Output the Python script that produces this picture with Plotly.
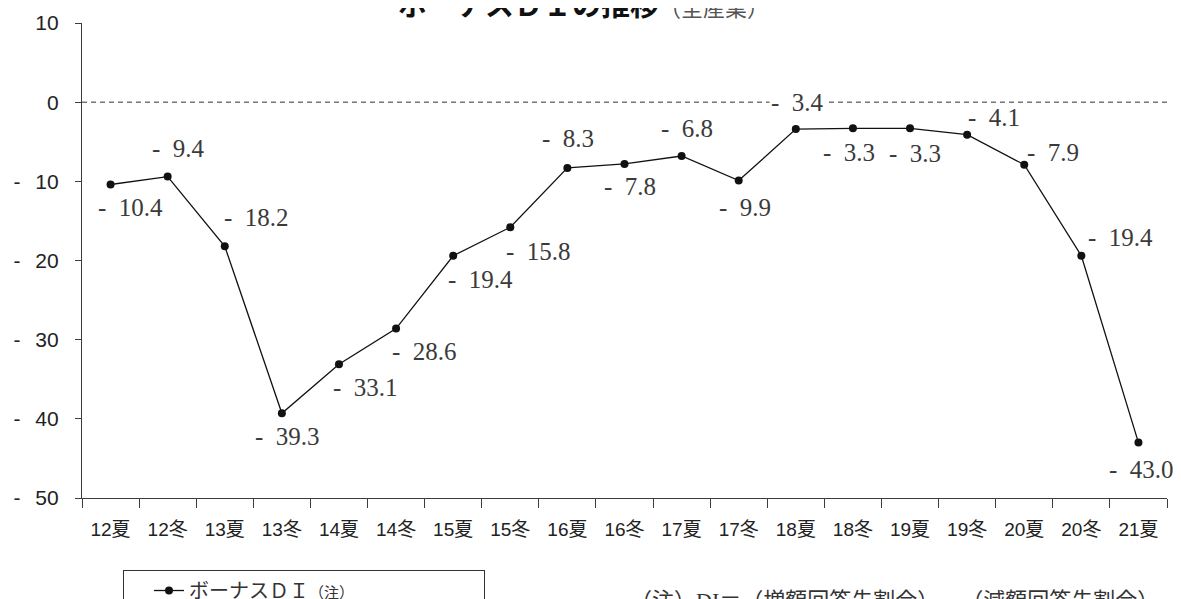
import plotly.graph_objects as go

# ---- data ----
categories = ["12夏", "12冬", "13夏", "13冬", "14夏", "14冬", "15夏", "15冬", "16夏", "16冬",
              "17夏", "17冬", "18夏", "18冬", "19夏", "19冬", "20夏", "20冬", "21夏"]
bonus_di = [-10.4, -9.4, -18.2, -39.3, -33.1, -28.6, -19.4, -15.8, -8.3, -7.8,
            -6.8, -9.9, -3.4, -3.3, -3.3, -4.1, -7.9, -19.4, -43.0]
y_tick_vals = [10, 0, -10, -20, -30, -40, -50]
y_tick_text = ["10", "0", "-\u2002\u200910", "-\u2002\u200920", "-\u2002\u200930",
               "-\u2002\u200940", "-\u2002\u200950"]
series_name = "ボーナスＤＩ"
title_main = "ボーナスＤＩの推移"
title_sub = "（全産業）"
note_text = "（注）DI＝（増額回答先割合）－（減額回答先割合）"

# label offsets in px (dx right, dy down) relative to each point
label_offsets = [(20, 23), (11, -28), (32, -29), (6, 23), (27, 23), (28, 23), (27, 24), (28, 24),
                 (1, -29), (5, 23), (5, -28), (6, 27), (2, -27), (-4, 24), (5, 25), (27, -17),
                 (29, -12), (39, -18), (3, 27)]

TICK_FONT = "Liberation Sans Narrow, Liberation Sans, Arial, Noto Sans CJK JP, sans-serif"
SERIF = "Liberation Serif, Times New Roman, Noto Sans CJK JP, serif"
AX = "#3c3c3c"

fig = go.Figure()
fig.add_trace(go.Scatter(
    x=categories, y=bonus_di, mode="lines+markers",
    name=series_name + "<span style='font-size:15px'>（注）</span>",
    line=dict(color="#111111", width=1.3),
    marker=dict(color="#111111", size=8),
    xaxis="x", yaxis="y", showlegend=True,
))

# data labels
for c, v, (dx, dy) in zip(categories, bonus_di, label_offsets):
    fig.add_annotation(
        x=c, y=v, xref="x", yref="y", text=f"-\u2002{abs(v):.1f}", showarrow=False,
        xshift=dx, yshift=-dy, xanchor="center", yanchor="middle",
        font=dict(family=SERIF, size=25, color="#3a3a3a"),
        bgcolor="white" if c == "18夏" else "rgba(0,0,0,0)",
    )

# zero reference line (dashed)
fig.add_shape(type="line", xref="paper", yref="y", x0=0, x1=1, y0=0, y1=0,
              line=dict(color="#333333", width=1, dash="5px,4px"), layer="below")

# title
fig.add_annotation(
    xref="paper", yref="paper", x=0.4618, y=1.042, xanchor="center", yanchor="middle",
    text=f"<b>{title_main}</b><span style='font-size:22px;color:#555555'>{title_sub}</span>",
    showarrow=False, font=dict(family="Noto Sans CJK JP", size=29, color="#111111"),
)

# footnote
fig.add_annotation(
    xref="paper", yref="paper", x=0.503, y=-0.215, xanchor="left", yanchor="middle",
    text=note_text, showarrow=False,
    font=dict(family=SERIF, size=22, color="#333333"),
)

fig.update_layout(
    width=1173, height=591,
    margin=dict(l=74, r=14, t=15, b=101, autoexpand=False),
    paper_bgcolor="white", plot_bgcolor="white",
    xaxis=dict(
        type="category", categoryorder="array", categoryarray=categories,
        range=[-0.5, len(categories) - 0.5], tickson="boundaries",
        ticks="outside", ticklen=9, tickcolor=AX, tickwidth=1.2,
        showline=True, linecolor=AX, linewidth=1.3, showgrid=False, zeroline=False,
        tickfont=dict(family=TICK_FONT, size=19, color="#222222"),
        ticklabelstandoff=14,
    ),
    yaxis=dict(
        range=[-50, 10], tickvals=y_tick_vals, ticktext=y_tick_text,
        ticks="outside", ticklen=6, tickcolor=AX, tickwidth=1.2,
        showline=True, linecolor=AX, linewidth=1.3, showgrid=False, zeroline=False,
        tickfont=dict(family=TICK_FONT, size=21, color="#222222"),
        ticklabelstandoff=12,
    ),
    xaxis2=dict(
        overlaying="x", anchor="y2", type="linear", range=[-0.5, len(categories) - 0.5],
        tick0=-0.5, dtick=1, ticks="inside", ticklen=6, tickcolor=AX, tickwidth=1.2,
        showticklabels=False, showline=False, showgrid=False, zeroline=False, side="bottom",
    ),
    yaxis2=dict(
        overlaying="y", anchor="x2", range=[-50, 10], tickvals=y_tick_vals,
        ticks="inside", ticklen=6, tickcolor=AX, tickwidth=1.2,
        showticklabels=False, showline=False, showgrid=False, zeroline=False, side="left",
    ),
    showlegend=True,
    legend=dict(
        x=0.0378, y=-0.1516, xanchor="left", yanchor="top",
        orientation="h", entrywidth=290, entrywidthmode="pixels", indentation=25,
        bordercolor="#333333", borderwidth=1, bgcolor="white",
        font=dict(family=SERIF, size=20, color="#333333"),
    ),
)

fig.write_html("out.html")
